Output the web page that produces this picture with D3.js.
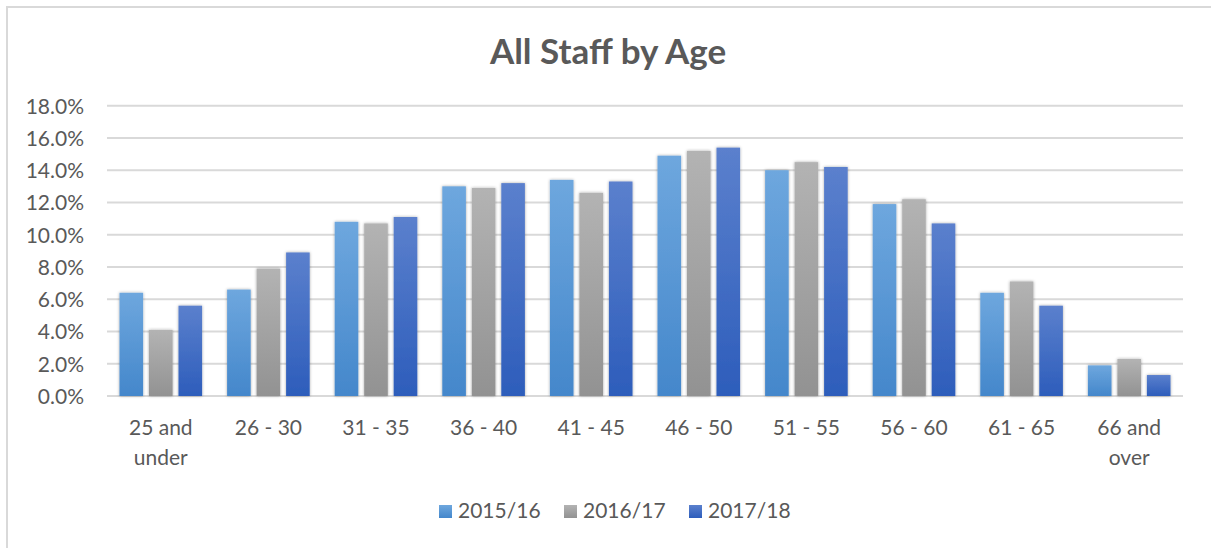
<!DOCTYPE html>
<html>
<head>
<meta charset="utf-8">
<script src="https://cdn.jsdelivr.net/npm/d3@7"></script>
<style>
  html, body { margin: 0; padding: 0; background: #fff; }
  svg { display: block; }
  text { font-family: Lato, "Open Sans", sans-serif; fill: #595959; }
</style>
</head>
<body>
<svg id="chart" width="1211" height="548"></svg>
<script>
const categories = ["25 and under", "26 - 30", "31 - 35", "36 - 40", "41 - 45", "46 - 50", "51 - 55", "56 - 60", "61 - 65", "66 and over"];
const seriesNames = ["2015/16", "2016/17", "2017/18"];
const values2015 = [6.4, 6.6, 10.8, 13.0, 13.4, 14.9, 14.0, 11.9, 6.4, 1.9];
const values2016 = [4.1, 7.9, 10.7, 12.9, 12.6, 15.2, 14.5, 12.2, 7.1, 2.3];
const values2017 = [5.6, 8.9, 11.1, 13.2, 13.3, 15.4, 14.2, 10.7, 5.6, 1.3];
const yTicks = [0, 2, 4, 6, 8, 10, 12, 14, 16, 18];
const title = "All Staff by Age";

const seriesValues = [values2015, values2016, values2017];
const colorsTop = ["#6ea7de", "#b3b3b3", "#5b80cd"];
const colorsBottom = ["#4487cb", "#929292", "#2d5dbb"];

const svg = d3.select("#chart");
const W = 1211, H = 548;
const m = { left: 107, right: 28, top: 105.7, bottom: 152 };

// chart border
svg.append("rect").attr("x", 7).attr("y", 7).attr("width", W + 20).attr("height", H + 20)
  .attr("fill", "none").attr("stroke", "#d9d9d9").attr("stroke-width", 2);

const defs = svg.append("defs");
seriesNames.forEach((s, i) => {
  const g = defs.append("linearGradient").attr("id", "grad" + i)
    .attr("x1", 0).attr("y1", 0).attr("x2", 0).attr("y2", 1);
  g.append("stop").attr("offset", "0%").attr("stop-color", colorsTop[i]);
  g.append("stop").attr("offset", "100%").attr("stop-color", colorsBottom[i]);
});
const f = defs.append("filter").attr("id", "shadow").attr("x", "-30%").attr("y", "-10%").attr("width", "160%").attr("height", "120%");
f.append("feDropShadow").attr("dx", 0).attr("dy", 0).attr("stdDeviation", 1.6)
  .attr("flood-color", "#000").attr("flood-opacity", 0.35);

const x0 = d3.scaleBand().domain(categories).range([m.left, W - m.right]).paddingInner(0).paddingOuter(0);
const groupPad = 12.5;
const x1 = d3.scaleBand().domain(seriesNames).range([groupPad, x0.bandwidth() - groupPad]).paddingInner(0.2).paddingOuter(0);
const y = d3.scaleLinear().domain([0, 18]).range([396, m.top]);

// gridlines
svg.append("g").selectAll("line").data(yTicks).join("line")
  .attr("x1", m.left).attr("x2", W - m.right)
  .attr("y1", d => y(d)).attr("y2", d => y(d))
  .attr("stroke", "#d9d9d9").attr("stroke-width", 2);

// y axis labels
const yAxis = d3.axisLeft(y).tickValues(yTicks).tickFormat(d => d3.format(".1f")(d) + "%").tickSize(0).tickPadding(0);
const ya = svg.append("g").attr("transform", "translate(84,0)").call(yAxis);
ya.select(".domain").remove();
ya.selectAll("text").attr("font-size", 21).attr("fill", "#595959")
  .style("font-family", "Lato, 'Open Sans', sans-serif").attr("dy", "0.35em");

// bars
const groups = svg.append("g").selectAll("g").data(categories).join("g")
  .attr("transform", d => `translate(${x0(d)},0)`);
groups.selectAll("rect").data((c, ci) => seriesNames.map((s, si) => ({ s, si, v: seriesValues[si][ci] })))
  .join("rect")
  .attr("x", d => x1(d.s))
  .attr("width", x1.bandwidth())
  .attr("y", d => y(d.v))
  .attr("height", d => y(0) - y(d.v))
  .attr("fill", d => `url(#grad${d.si})`)
  .attr("filter", "url(#shadow)");

// x axis labels
const xLabels = svg.append("g").selectAll("text").data(categories).join("text")
  .attr("x", d => x0(d) + x0.bandwidth() / 2)
  .attr("y", 435)
  .attr("text-anchor", "middle")
  .attr("font-size", 21);
xLabels.each(function (d) {
  const t = d3.select(this);
  const m2 = d.match(/^(.*) (under|over)$/);
  const lines = m2 ? [m2[1], m2[2]] : [d];
  lines.forEach((ln, i) => {
    t.append("tspan").attr("x", x0(d) + x0.bandwidth() / 2).attr("dy", i === 0 ? 0 : 30).text(ln);
  });
});

// title
svg.append("text").attr("x", 608).attr("y", 64).attr("text-anchor", "middle")
  .attr("font-size", 35).attr("font-weight", "bold").attr("fill", "#595959").text(title);

// legend
const legendX = [439, 564, 689];
const lg = svg.append("g").selectAll("g").data(seriesNames).join("g")
  .attr("transform", (d, i) => `translate(${legendX[i]},505)`);
lg.append("rect").attr("width", 13).attr("height", 13).attr("fill", (d, i) => `url(#grad${i})`);
lg.append("text").attr("x", 19).attr("y", 13).attr("font-size", 21).text(d => d);
</script>
</body>
</html>
